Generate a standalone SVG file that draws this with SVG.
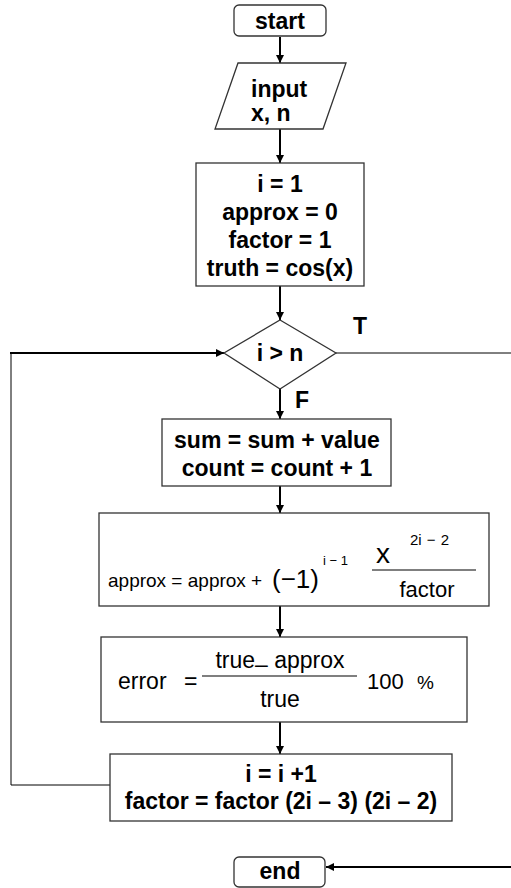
<svg xmlns="http://www.w3.org/2000/svg" width="511" height="888" viewBox="0 0 511 888">
  <style>
    .shape { fill: #ffffff; stroke: #333333; stroke-width: 1.3; }
    .b { font-family: "Liberation Sans", Arial, sans-serif; font-weight: bold; font-size: 23px; fill: #000; text-anchor: middle; }
    .r { font-family: "Liberation Sans", Arial, sans-serif; font-size: 22px; fill: #000; }
    .sup { font-family: "Liberation Sans", Arial, sans-serif; font-size: 13px; fill: #000; }
    .flow { stroke: #000; stroke-width: 2; fill: none; }
    .thin { stroke: #000; stroke-width: 1; fill: none; }
    .bar { stroke: #000; stroke-width: 1.2; }
  </style>
  <defs>
    <marker id="arrow" viewBox="0 0 10 10" refX="10" refY="5" markerWidth="4" markerHeight="4" orient="auto" markerUnits="strokeWidth">
      <path d="M0,0 L10,5 L0,10 z" fill="#000"/>
    </marker>
  </defs>

  <rect width="511" height="888" fill="#ffffff"/>

  <!-- connectors -->
  <g id="connectors">
    <line class="flow" x1="280" y1="37" x2="280" y2="63" marker-end="url(#arrow)"/>
    <line class="flow" x1="280" y1="129" x2="280" y2="163" marker-end="url(#arrow)"/>
    <line class="flow" x1="280" y1="286" x2="280" y2="320" marker-end="url(#arrow)"/>
    <line class="flow" x1="280" y1="389" x2="280" y2="419" marker-end="url(#arrow)"/>
    <line class="flow" x1="280" y1="486" x2="280" y2="513" marker-end="url(#arrow)"/>
    <line class="flow" x1="280" y1="606" x2="280" y2="637" marker-end="url(#arrow)"/>
    <line class="flow" x1="280" y1="722" x2="280" y2="754" marker-end="url(#arrow)"/>
    <!-- loop back to the decision -->
    <polyline class="thin" points="110,785 11,785 11,353"/>
    <line class="flow" x1="10" y1="353" x2="224" y2="353" marker-end="url(#arrow)"/>
    <!-- true branch to end -->
    <line class="thin" x1="336" y1="353" x2="511" y2="353"/>
    <line class="flow" x1="511" y1="867" x2="326" y2="867" marker-end="url(#arrow)"/>
    <text class="b" x="360" y="334">T</text>
    <text class="b" x="302" y="408">F</text>
  </g>

  <g id="start">
    <rect class="shape" x="234" y="5" width="92" height="31" rx="5"/>
    <text class="b" x="280" y="29">start</text>
  </g>

  <g id="input">
    <polygon class="shape" points="238,63 346,63 323,129 215,129"/>
    <text class="b" x="251" y="97" style="text-anchor:start">input</text>
    <text class="b" x="251" y="121" style="text-anchor:start">x, n</text>
  </g>

  <g id="init">
    <rect class="shape" x="196" y="163" width="168" height="123"/>
    <text class="b" x="280" y="192">i = 1</text>
    <text class="b" x="280" y="220">approx = 0</text>
    <text class="b" x="280" y="248">factor = 1</text>
    <text class="b" x="280" y="276">truth = cos(x)</text>
  </g>

  <g id="decision">
    <polygon class="shape" points="280,320 336,353 280,389 224,353"/>
    <text class="b" x="280" y="361">i &gt; n</text>
  </g>

  <g id="count">
    <rect class="shape" x="162" y="419" width="229" height="67"/>
    <text class="b" x="277" y="448">sum = sum + value</text>
    <text class="b" x="277" y="476">count = count + 1</text>
  </g>

  <g id="series">
    <rect class="shape" x="99" y="513" width="390" height="93"/>
    <text class="r" x="108" y="587" style="font-size:19px">approx = approx +</text>
    <text class="r" x="272" y="588" style="font-size:26px">(−1)</text>
    <text class="sup" x="323" y="565">i − 1</text>
    <text class="r" x="383" y="563" style="font-size:28px; text-anchor:middle">x</text>
    <text class="sup" x="410" y="545" style="font-size:15px; word-spacing:1px">2i − 2</text>
    <line class="bar" x1="372" y1="570" x2="476" y2="570"/>
    <text class="r" x="427" y="597" style="text-anchor:middle">factor</text>
  </g>

  <g id="error">
    <rect class="shape" x="101" y="637" width="366" height="85"/>
    <text class="r" x="118" y="689" style="font-size:23px">error</text>
    <text class="r" x="184" y="689" style="font-size:23px">=</text>
    <line class="bar" x1="202" y1="676" x2="357" y2="676"/>
    <text class="r" x="280" y="668" style="font-size:23px; text-anchor:middle">true<tspan dy="4">–</tspan><tspan dy="-4"> approx</tspan></text>
    <text class="r" x="280" y="707" style="font-size:23px; text-anchor:middle">true</text>
    <text class="r" x="367" y="689" style="font-size:22px">100</text>
    <text class="r" x="417" y="689" style="font-size:19px">%</text>
  </g>

  <g id="update">
    <rect class="shape" x="110" y="754" width="342" height="67"/>
    <text class="b" x="281" y="782">i = i +1</text>
    <text class="b" x="281" y="809">factor = factor (2i – 3) (2i – 2)</text>
  </g>

  <g id="end">
    <rect class="shape" x="234" y="857" width="91" height="30" rx="5"/>
    <text class="b" x="280" y="879">end</text>
  </g>
</svg>
